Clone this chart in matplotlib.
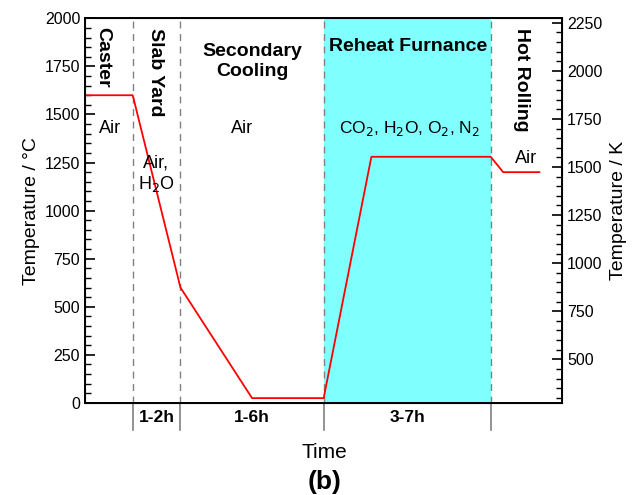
import matplotlib.pyplot as plt
import matplotlib.transforms as mtransforms
from matplotlib.ticker import MultipleLocator

plt.rcParams['font.family'] = ['Liberation Sans', 'DejaVu Sans']

# process path (time in arbitrary units, temperature in degC)
time_pts = [0, 10, 20, 35, 50, 60, 85, 87.6, 95.2]
temp_pts = [1600, 1600, 600, 25, 25, 1280, 1280, 1200, 1200]

# stage boundaries and labels
boundaries = [10, 20, 50, 85]
durations = ["1-2h", "1-6h", "3-7h"]
duration_spans = [(10, 20), (20, 50), (50, 85)]

fig = plt.figure(figsize=(6.39, 4.95), dpi=100)
ax = fig.add_axes([0.133, 0.186, 0.747, 0.777])

# reheat furnace shading
ax.axvspan(50, 85, color='#80ffff', lw=0, zorder=0)

for b in boundaries:
    ax.axvline(b, color='#808080', ls=(0, (5, 4)), lw=1.0, zorder=1)

ax.plot(time_pts, temp_pts, color='red', lw=1.3, zorder=3)

ax.set_xlim(0, 100)
ax.set_ylim(0, 2000)
ax.set_xticks([])
ax.yaxis.set_major_locator(MultipleLocator(250))
ax.yaxis.set_minor_locator(MultipleLocator(50))
ax.tick_params(axis='y', which='major', direction='in', length=7, width=1.2, labelsize=11.5)
ax.tick_params(axis='y', which='minor', direction='in', length=4, width=1)
ax.set_ylabel("Temperature / °C", fontsize=14, labelpad=3)
for s in ax.spines.values():
    s.set_linewidth(1.4)

# Kelvin axis
ax2 = ax.twinx()
ax2.set_ylim(0 + 273, 2000 + 273)
ax2.yaxis.set_minor_locator(MultipleLocator(50))
ax2.tick_params(axis='y', which='major', direction='in', length=7, width=1.2, labelsize=11.5)
ax2.tick_params(axis='y', which='minor', direction='in', length=4, width=1)
ax2.set_ylabel("Temperature / K", fontsize=14, labelpad=5)
ax2.set_yticks([500, 750, 1000, 1250, 1500, 1750, 2000, 2250])

# stage names
ax.text(3.8, 1955, "Caster", rotation=-90, fontsize=14, fontweight='bold', ha='center', va='top')
ax.text(14.8, 1950, "Slab Yard", rotation=-90, fontsize=14, fontweight='bold', ha='center', va='top')
ax.text(35, 1775, "Secondary\nCooling", fontsize=14, fontweight='bold', ha='center', va='center',
        linespacing=1.2)
ax.text(67.6, 1855, "Reheat Furnance", fontsize=14, fontweight='bold', ha='center', va='center')
ax.text(91.5, 1950, "Hot Rolling", rotation=-90, fontsize=14, fontweight='bold', ha='center', va='top')

# atmospheres
ax.text(5.3, 1425, "Air", fontsize=13, ha='center', va='center')
ax.text(33, 1425, "Air", fontsize=13, ha='center', va='center')
ax.text(14.9, 1190, "Air,\nH$_2$O", fontsize=13, ha='center', va='center', linespacing=1.2)
ax.text(68, 1425, "CO$_2$, H$_2$O, O$_2$, N$_2$", fontsize=12.5, ha='center', va='center')
ax.text(92.3, 1270, "Air", fontsize=13, ha='center', va='center')

# duration strip below the axis
trans = mtransforms.blended_transform_factory(ax.transData, ax.transAxes)
for b in boundaries:
    ax.plot([b, b], [0, -0.07], color='#808080', lw=1.2, transform=trans, clip_on=False)
for lab, (x0, x1) in zip(durations, duration_spans):
    ax.text((x0 + x1) / 2, -0.038, lab, fontsize=12.5, fontweight='bold', ha='center', va='center',
            transform=trans)

fig.text(0.508, 0.085, "Time", fontsize=15, ha='center', va='center')
fig.text(0.508, 0.027, "(b)", fontsize=19, fontweight='bold', ha='center', va='center')

fig.savefig("out.png", dpi=100)
